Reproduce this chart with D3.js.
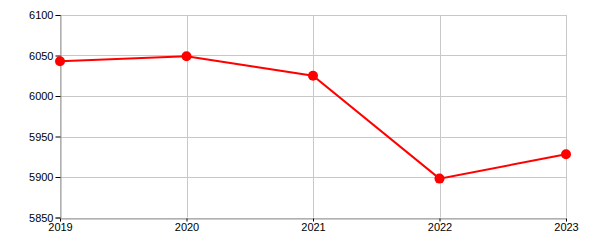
<!DOCTYPE html>
<html><head><meta charset="utf-8">
<script src="https://cdn.jsdelivr.net/npm/d3@7"></script>
<style>body{margin:0;background:#fff}svg{display:block}text{font-family:"Liberation Sans",Arial,sans-serif;font-size:11px;fill:#000}</style>
</head><body><svg id="c" width="600" height="250"></svg>
<script>
const years = [2019, 2020, 2021, 2022, 2023];
const values = [6043, 6049, 6025, 5898, 5928];
const yTicks = [5850, 5900, 5950, 6000, 6050, 6100];

const svg = d3.select("#c");
const L = 60, R = 566, T = 15, B = 217.5;
const x = d3.scalePoint().domain(years).range([L, R]);
const y = d3.scaleLinear().domain([5850, 6100]).range([B, T]);

// grid
svg.append("g").selectAll("line").data(yTicks).join("line")
  .attr("x1", L).attr("x2", R).attr("y1", d => Math.round(y(d)) + 0.5).attr("y2", d => Math.round(y(d)) + 0.5)
  .attr("stroke", "#c8c8c8").attr("stroke-width", 1);
svg.append("g").selectAll("line").data(years).join("line")
  .attr("x1", d => Math.round(x(d)) + 0.5).attr("x2", d => Math.round(x(d)) + 0.5).attr("y1", T).attr("y2", B)
  .attr("stroke", "#c8c8c8").attr("stroke-width", 1);

// y axis
const ya = svg.append("g").attr("transform", `translate(${L + 0.5},0)`)
  .call(d3.axisLeft(y).tickValues(yTicks).tickSize(5).tickPadding(2).tickFormat(d3.format("d")));
ya.select(".domain").attr("stroke", "#999");
ya.selectAll(".tick line").attr("stroke", "#000");
ya.selectAll("text").attr("font-size", 11).attr("font-family", "Liberation Sans, Arial, sans-serif").attr("fill", "#000");

// x axis
const xa = svg.append("g").attr("transform", `translate(0,${Math.round(B) + 0.5})`)
  .call(d3.axisBottom(x).tickSize(3).tickPadding(2).tickFormat(d3.format("d")));
xa.select(".domain").attr("stroke", "#999");
xa.selectAll(".tick line").attr("stroke", "#000");
xa.selectAll("text").attr("font-size", 11).attr("font-family", "Liberation Sans, Arial, sans-serif").attr("fill", "#000");

// line
svg.append("path").datum(years.map((yr, i) => [yr, values[i]]))
  .attr("fill", "none").attr("stroke", "#ff0000").attr("stroke-width", 2)
  .attr("d", d3.line().x(d => x(d[0])).y(d => y(d[1])));
svg.append("g").selectAll("circle").data(years.map((yr, i) => [yr, values[i]])).join("circle")
  .attr("cx", d => x(d[0])).attr("cy", d => y(d[1])).attr("r", 5).attr("fill", "#ff0000");
</script></body></html>
